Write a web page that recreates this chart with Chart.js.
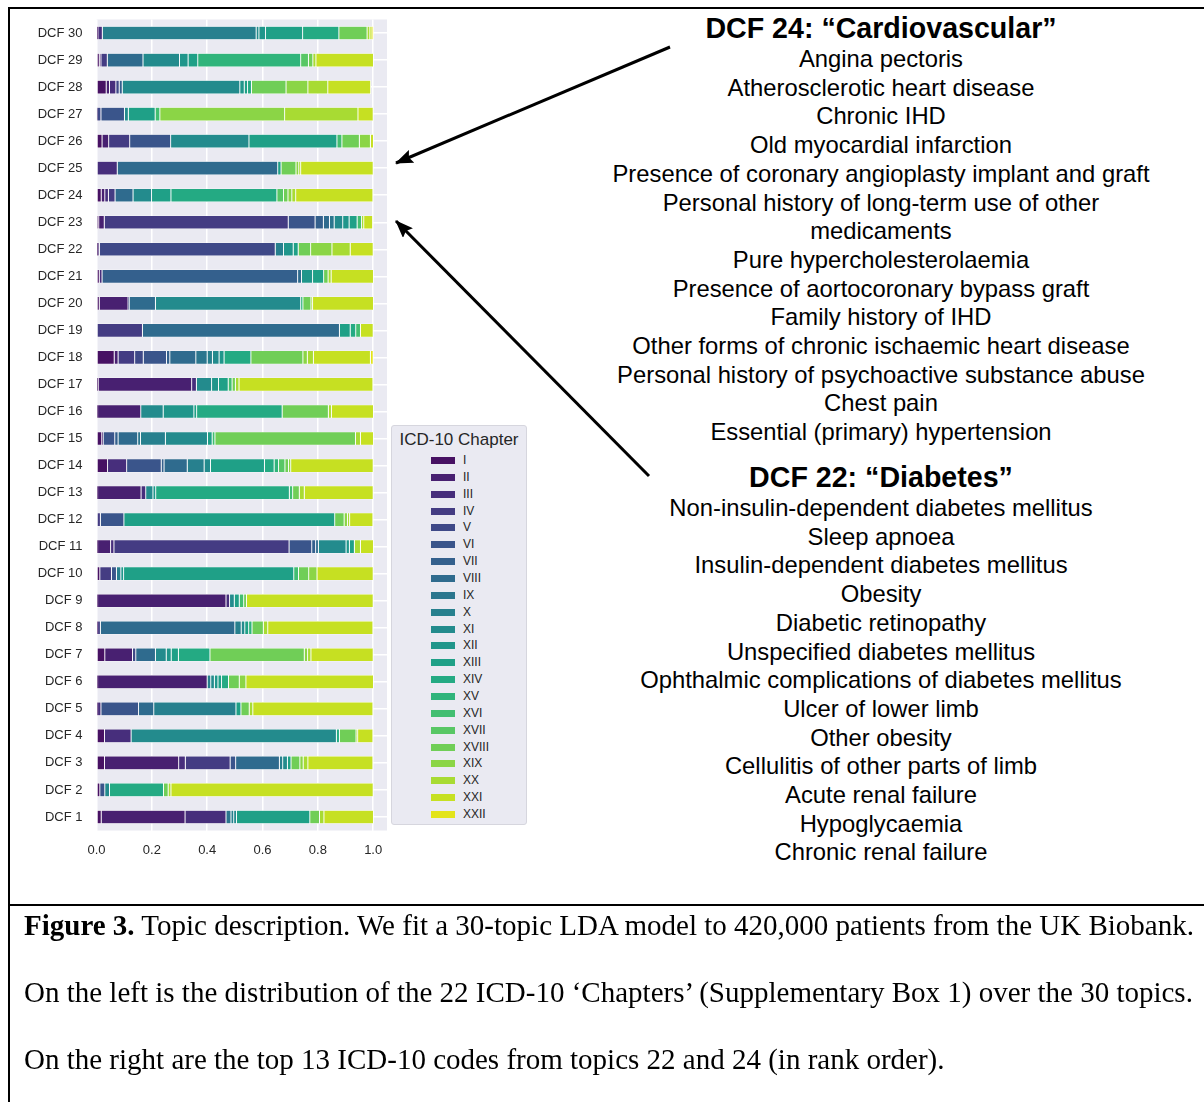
<!DOCTYPE html>
<html>
<head>
<meta charset="utf-8">
<script src="https://cdn.jsdelivr.net/npm/chart.js@4.4.1/dist/chart.umd.min.js"></script>
<style>
  html, body { margin:0; padding:0; background:#fff; }
  body { width:1204px; height:1102px; position:relative; overflow:hidden; font-family:"Liberation Sans", Arial, sans-serif; }
  #chartBox { position:absolute; left:0; top:0; width:390px; height:870px; }
  #legend { position:absolute; left:391px; top:425px; width:134px; height:398px; background:#eaeaf2; border:1px solid #d6d6de; border-radius:3px; box-sizing:content-box; }
  #legend .ttl { position:absolute; left:0; width:134px; top:3px; text-align:center; font-size:17px; color:#262626; line-height:22px; }
  #legend .row { position:absolute; left:0; height:16px; width:134px; }
  #legend .sw { position:absolute; left:39px; top:5px; width:24px; height:7px; }
  #legend .lb { position:absolute; left:71px; top:0; font-size:12px; line-height:16px; color:#262626; }
  .rt { position:absolute; left:560px; width:642px; text-align:center; color:#000; }
  .rt .h { font-weight:bold; font-size:28.6px; line-height:34px; }
  .rt .it { font-size:23.8px; line-height:28.7px; }
  .cap { position:absolute; left:24px; font-family:"Liberation Serif","Times New Roman",serif; font-size:29px; line-height:34px; color:#000; white-space:nowrap; }
  .frame { position:absolute; background:#000; }
</style>
</head>
<body>
<div class="frame" style="left:8px; top:6.5px; width:1196px; height:2px;"></div>
<div class="frame" style="left:8px; top:6.5px; width:2px; height:1096px;"></div>
<div class="frame" style="left:8px; top:904px; width:1196px; height:2px;"></div>

<div id="chartBox"><canvas id="c"></canvas></div>
<div id="legend"></div>

<div class="rt" style="top:11px;">
  <div class="h">DCF 24: “Cardiovascular”</div>
  <div class="it">Angina pectoris<br>Atherosclerotic heart disease<br>Chronic IHD<br>Old myocardial infarction<br>Presence of coronary angioplasty implant and graft<br>Personal history of long-term use of other<br>medicaments<br>Pure hypercholesterolaemia<br>Presence of aortocoronary bypass graft<br>Family history of IHD<br>Other forms of chronic ischaemic heart disease<br>Personal history of psychoactive substance abuse<br>Chest pain<br>Essential (primary) hypertension</div>
</div>
<div class="rt" style="top:460px;">
  <div class="h">DCF 22: “Diabetes”</div>
  <div class="it">Non-insulin-dependent diabetes mellitus<br>Sleep apnoea<br>Insulin-dependent diabetes mellitus<br>Obesity<br>Diabetic retinopathy<br>Unspecified diabetes mellitus<br>Ophthalmic complications of diabetes mellitus<br>Ulcer of lower limb<br>Other obesity<br>Cellulitis of other parts of limb<br>Acute renal failure<br>Hypoglycaemia<br>Chronic renal failure</div>
</div>

<svg style="position:absolute;left:0;top:0;" width="1204" height="1102">
  <defs>
    <marker id="ah" markerUnits="userSpaceOnUse" viewBox="0 0 18 14" markerWidth="18" markerHeight="14" refX="17" refY="7" orient="auto">
      <path d="M0,0 L18,7 L0,14 L3,7 z" fill="#000"/>
    </marker>
  </defs>
  <line x1="670" y1="47" x2="396" y2="163" stroke="#000" stroke-width="3" marker-end="url(#ah)"/>
  <line x1="649" y1="476" x2="396" y2="221" stroke="#000" stroke-width="3" marker-end="url(#ah)"/>
</svg>

<div class="cap" style="top:908px;"><b>Figure 3.</b> Topic description. We fit a 30-topic LDA model to 420,000 patients from the UK Biobank.</div>
<div class="cap" style="top:975px;">On the left is the distribution of the 22 ICD-10 ‘Chapters’ (Supplementary Box 1) over the 30 topics.</div>
<div class="cap" style="top:1042px;">On the right are the top 13 ICD-10 codes from topics 22 and 24 (in rank order).</div>

<script>
// ---- Data ----
const chapters = ['I','II','III','IV','V','VI','VII','VIII','IX','X','XI','XII','XIII','XIV','XV','XVI','XVII','XVIII','XIX','XX','XXI','XXII'];
const topics = ['DCF 30','DCF 29','DCF 28','DCF 27','DCF 26','DCF 25','DCF 24','DCF 23','DCF 22','DCF 21','DCF 20','DCF 19','DCF 18','DCF 17','DCF 16','DCF 15','DCF 14','DCF 13','DCF 12','DCF 11','DCF 10','DCF 9','DCF 8','DCF 7','DCF 6','DCF 5','DCF 4','DCF 3','DCF 2','DCF 1'];
const xTicks = [0, 0.2, 0.4, 0.6, 0.8, 1.0];

// share of each ICD-10 chapter (I..XXII) in each topic
const dcf30 = [.005,0,.016,0,0,0,0,0,0,.556,.010,.024,.134,.131,0,0,0,.102,0,.010,.008,.005];
const dcf29 = [.010,.006,0,.023,0,0,0,.129,0,0,.132,.031,.035,0,.372,0,.028,.016,0,.011,.208,0];
const dcf28 = [.035,.012,.023,0,.012,0,.011,0,0,0,.425,.016,.012,.014,0,0,0,.125,.079,.072,.155,0];
const dcf27 = [.002,0,0,0,.014,.085,0,0,0,0,.014,0,.097,0,0,.017,0,0,.451,.265,.055,0];
const dcf26 = [.020,.024,0,.076,0,.148,0,0,0,0,.283,0,.318,0,0,.018,0,.063,.040,0,.011,0];
const dcf25 = [0,0,.075,0,0,0,0,.580,0,0,0,0,.012,0,0,0,0,.054,.010,.007,.262,0];
const dcf24 = [.017,.013,.013,.024,0,0,0,.065,0,0,.067,0,.070,.383,0,0,.024,.016,.014,.014,.279,0];
const dcf23 = [.008,.020,0,.665,0,.097,.030,.022,.017,0,.031,.023,.029,0,0,.016,0,0,0,.008,.032,0];
const dcf22 = [.005,0,.006,0,.635,0,0,0,0,.030,0,.035,.018,0,0,0,0,.045,.077,.066,.083,0];
const dcf21 = [.010,0,.010,0,0,0,.707,.014,0,0,0,.040,.040,0,0,0,0,.016,0,.011,.153,0];
const dcf20 = [.010,.104,0,0,.004,0,0,.095,0,0,.525,0,0,0,.008,0,0,.029,0,.006,.220,0];
const dcf19 = [0,0,0,.166,0,0,0,.712,0,0,0,0,.039,.020,0,.017,0,0,0,0,.046,0];
const dcf18 = [.064,.014,0,.060,.031,.084,.012,.094,.041,.019,.024,.018,0,.097,0,0,0,.188,.016,.022,.206,.010];
const dcf17 = [.006,.338,.017,0,0,0,0,0,0,0,.055,.025,.035,0,0,.014,0,.012,0,.013,.484,0];
const dcf16 = [.004,.156,0,0,0,0,0,0,0,0,.081,.111,.010,.309,0,0,0,.167,0,.011,.152,0];
const dcf15 = [.019,.005,0,0,0,.042,.012,.071,.010,.090,.152,0,.017,0,0,.010,0,.508,0,.018,.047,0];
const dcf14 = [.040,0,.069,0,0,.125,.010,.084,0,.061,.023,0,.195,.035,.016,0,.023,.013,.008,0,.298,0];
const dcf13 = [.004,.157,.017,0,0,0,0,0,0,0,.026,.010,0,.483,0,.012,0,.024,0,.018,.249,0];
const dcf12 = [0,0,0,.014,0,.085,0,0,0,0,0,0,.762,0,0,0,0,.034,.012,.008,.084,0];
const dcf11 = [.004,.047,.012,.633,0,.082,.014,.010,0,0,.100,.012,.018,0,0,0,0,0,0,.022,.047,0];
const dcf10 = [.012,0,0,.042,0,.018,0,0,0,.016,0,.010,.615,0,0,.017,0,.037,.030,0,.203,0];
const dcf9  = [.004,.464,.013,0,0,0,0,0,0,0,.017,0,.018,0,0,.016,0,.010,0,0,.458,0];
const dcf8  = [.004,0,0,.010,0,0,0,.486,0,.023,.013,0,.014,0,.012,0,0,.041,0,.016,.380,0];
const dcf7  = [.030,.100,0,0,.012,0,0,.071,0,0,.039,.018,.026,.114,0,0,0,.341,.012,.012,.225,0];
const dcf6  = [.004,.396,0,0,0,0,0,0,0,.013,.013,.013,.013,.025,0,0,0,.039,.024,0,.461,0];
const dcf5  = [.004,0,.012,0,0,.136,0,.055,0,.297,0,0,.018,0,0,0,0,.030,0,.013,.434,0];
const dcf4  = [.029,0,.096,0,0,0,0,0,0,0,.742,0,0,.011,0,0,0,.060,0,.006,.055,0];
const dcf3  = [.029,.268,.024,.162,0,.020,0,.158,0,.012,.017,0,.013,0,0,0,0,.032,.012,.017,.235,0];
const dcf2  = [.012,0,0,0,0,.018,0,0,0,0,.017,0,0,.195,0,0,0,.017,0,.010,.731,0];
const dcf1  = [.017,.303,.148,0,0,0,0,0,.018,.010,.010,0,.265,0,0,0,0,.035,0,.016,.179,0];

const topicRows = [dcf30,dcf29,dcf28,dcf27,dcf26,dcf25,dcf24,dcf23,dcf22,dcf21,dcf20,dcf19,dcf18,dcf17,dcf16,dcf15,dcf14,dcf13,dcf12,dcf11,dcf10,dcf9,dcf8,dcf7,dcf6,dcf5,dcf4,dcf3,dcf2,dcf1];

// ---- viridis colours (seaborn-style sampling, endpoints excluded) ----
const vStops = ['#440154','#471365','#482475','#463480','#414487','#3b528b','#355f8d','#2f6c8e','#2a788e','#25848e','#21918c','#1e9c89','#22a884','#2fb47c','#44bf70','#5ec962','#7ad151','#9bd93c','#bddf26','#dfe318','#fde725'];
function hex2rgb(h){ return [parseInt(h.slice(1,3),16),parseInt(h.slice(3,5),16),parseInt(h.slice(5,7),16)]; }
function viridis(t){
  const p = t*(vStops.length-1), i = Math.min(Math.floor(p), vStops.length-2), f = p - i;
  const a = hex2rgb(vStops[i]), b = hex2rgb(vStops[i+1]);
  return 'rgb(' + a.map((v,k)=>Math.round(v+(b[k]-v)*f)).join(',') + ')';
}
const colors = chapters.map((c,i)=>viridis((i+1)/(chapters.length+1)));

const datasets = chapters.map((ch, ci) => ({
  label: ch,
  data: topicRows.map(r => r[ci]),
  backgroundColor: colors[ci],
  borderColor: '#ffffff',
  borderWidth: {left:0.8, right:0.8, top:0.5, bottom:0.5},
  borderSkipped: false,
  barThickness: 13
}));

const plotBg = {
  id: 'plotBg',
  beforeDraw(chart){
    const {ctx, chartArea:{left, top, width, height}} = chart;
    ctx.save(); ctx.fillStyle = '#eaeaf2'; ctx.fillRect(left, top, width, height); ctx.restore();
  }
};

new Chart(document.getElementById('c'), {
  type: 'bar',
  data: { labels: topics, datasets },
  options: {
    indexAxis: 'y',
    responsive: true,
    maintainAspectRatio: false,
    animation: false,
    layout: { padding: { top: 19.5, right: 3, left: 0, bottom: 0 } },
    plugins: { legend: { display: false }, tooltip: { enabled: false } },
    scales: {
      x: {
        stacked: true, min: 0, max: 1.05,
        afterBuildTicks: s => { s.ticks = xTicks.map(v => ({ value: v })); },
        afterFit: s => { s.height = 39.5; s.paddingLeft = 0; s.paddingRight = 0; },
        ticks: { callback: v => Number(v).toFixed(1), font: { family: 'Liberation Sans', size: 13 }, color: '#262626', padding: 12, maxRotation: 0 },
        grid: { color: '#ffffff', lineWidth: 1.5, drawTicks: false },
        border: { display: false }
      },
      y: {
        stacked: true,
        afterFit: s => { s.width = 96.5; s.paddingTop = 0; s.paddingBottom = 0; },
        ticks: { font: { family: 'Liberation Sans', size: 13 }, color: '#262626', padding: 14 },
        grid: { color: '#ffffff', lineWidth: 1.5, drawTicks: false, offset: false },
        border: { display: false }
      }
    }
  },
  plugins: [plotBg]
});

// ---- legend ----
const lg = document.getElementById('legend');
const t = document.createElement('div'); t.className = 'ttl'; t.textContent = 'ICD-10 Chapter'; lg.appendChild(t);
chapters.forEach((ch, i) => {
  const r = document.createElement('div'); r.className = 'row'; r.style.top = (26 + i*16.86) + 'px';
  const sw = document.createElement('div'); sw.className = 'sw'; sw.style.background = colors[i];
  const lb = document.createElement('div'); lb.className = 'lb'; lb.textContent = ch;
  r.appendChild(sw); r.appendChild(lb); lg.appendChild(r);
});
</script>
</body>
</html>
